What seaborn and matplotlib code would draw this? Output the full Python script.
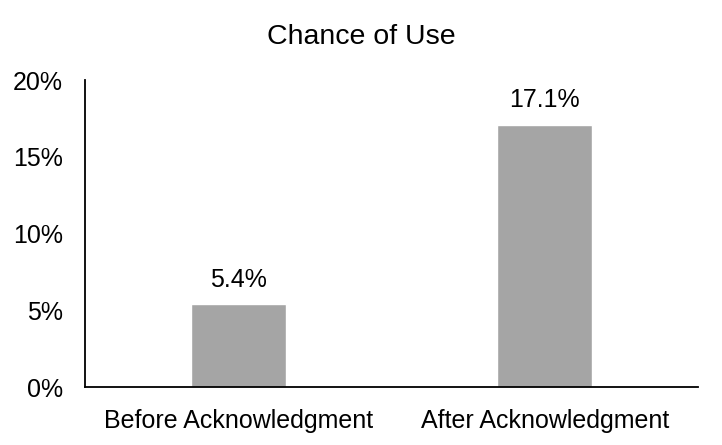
import matplotlib
matplotlib.use("Agg")
import matplotlib.pyplot as plt
import seaborn as sns
import pandas as pd
from matplotlib.ticker import PercentFormatter

categories = ["Before Acknowledgment", "After Acknowledgment"]
chance = [0.054, 0.171]
labels = ["5.4%", "17.1%"]

sns.set_style("white")
plt.rcParams['font.family'] = ['Liberation Sans', 'DejaVu Sans']
plt.rcParams['text.color'] = 'black'

df = pd.DataFrame({"stage": categories, "chance": chance})

fig = plt.figure(figsize=(7.22, 4.45), dpi=100)
ax = fig.add_axes([0.1177, 0.1303, 0.849, 0.6899])
sns.barplot(data=df, x="stage", y="chance", color="#A5A5A5", width=0.31,
            saturation=1, ax=ax)

for p, lab in zip(ax.patches, labels):
    ax.annotate(lab, (p.get_x() + p.get_width() / 2, p.get_height()),
                xytext=(0, 9), textcoords="offset points",
                ha="center", va="bottom", fontsize=18, color="black")

ax.set_ylim(0, 0.2)
ax.set_yticks([0, 0.05, 0.10, 0.15, 0.20])
ax.yaxis.set_major_formatter(PercentFormatter(1.0, decimals=0))
ax.set_xlabel("")
ax.set_ylabel("")
ax.tick_params(axis="both", labelsize=18, length=0, colors="black")
ax.tick_params(axis="y", pad=16)
ax.tick_params(axis="x", pad=16)
for s in ["top", "right"]:
    ax.spines[s].set_visible(False)
for s in ["left", "bottom"]:
    ax.spines[s].set_color("black")
    ax.spines[s].set_linewidth(1.3)

fig.suptitle("Chance of Use", fontsize=20.5, x=0.5, y=0.945, color="black")
fig.savefig("out.png", dpi=100, facecolor="white")
